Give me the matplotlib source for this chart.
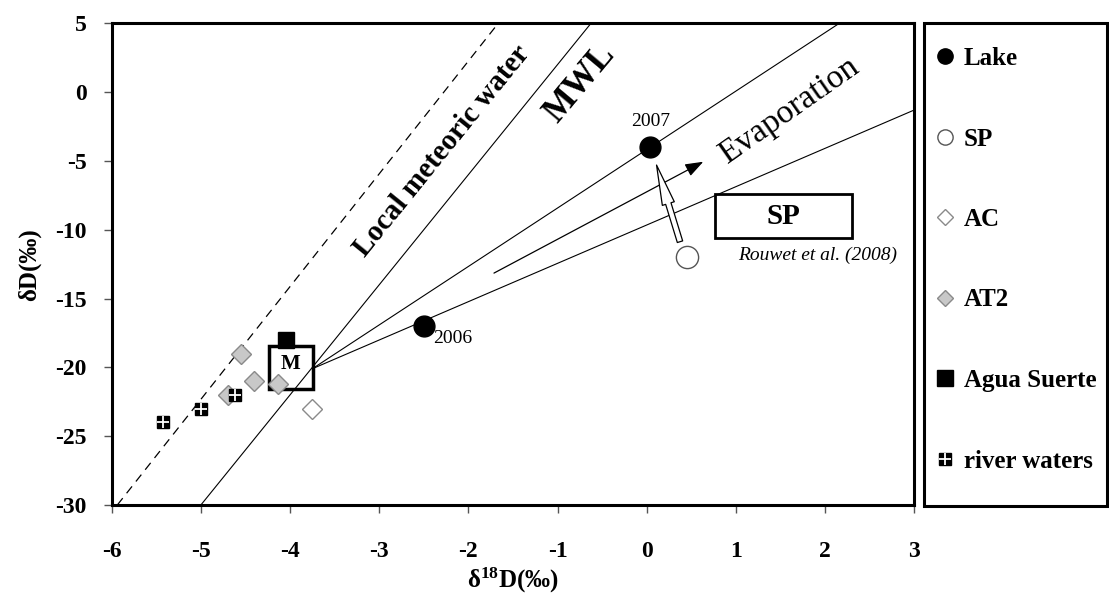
import matplotlib
matplotlib.use("Agg")
import matplotlib.pyplot as plt
from matplotlib.patches import Rectangle, FancyArrowPatch
from matplotlib.lines import Line2D

plt.rcParams['font.family'] = ['Liberation Serif', 'DejaVu Serif']
plt.rcParams['mathtext.default'] = 'regular'

# ---- data ----
lake_x = [-2.5, 0.04]
lake_y = [-17.0, -4.0]
lake_labels = ['2006', '2007']
sp_x = [0.45]
sp_y = [-12.0]
ac_x = [-3.75]
ac_y = [-23.0]
at2_x = [-4.55, -4.40, -4.70, -4.13]
at2_y = [-19.0, -21.0, -22.0, -21.2]
agua_x = [-4.04]
agua_y = [-18.0]
river_x = [-4.62, -5.00, -5.43]
river_y = [-22.0, -23.0, -24.0]

# reference lines (endpoints)
lmw_x = [-5.937, -1.665]          # local meteoric water (dashed)
lmw_y = [-30.0, 5.0]
mwl_x = [-5.0, -0.625]            # MWL: dD = 8 d18O + 10
mwl_y = [-30.0, 5.0]
evap1_x = [-3.75, 2.16]           # evaporation line through 2007
evap1_y = [-20.1, 5.0]
evap2_x = [-3.75, 3.0]            # evaporation line through 2006
evap2_y = [-20.1, -1.3]

# "M" box and SP box (data coords)
m_box = (-4.234, -21.6, 0.487, 3.15)
sp_box = (0.765, -10.63, 1.54, 3.22)

xticks = [-6, -5, -4, -3, -2, -1, 0, 1, 2, 3]
yticks = [5, 0, -5, -10, -15, -20, -25, -30]

fig = plt.figure(figsize=(11.09, 6.0), dpi=100)
ax = fig.add_axes([0.1007, 0.1583, 0.7237, 0.8029])
ax.set_xlim(-6, 3)
ax.set_ylim(-30, 5)

# lines
ax.plot(lmw_x, lmw_y, color='black', lw=0.9, dashes=(7, 5), zorder=2)
ax.plot(mwl_x, mwl_y, color='black', lw=0.8, zorder=2)
ax.plot(evap1_x, evap1_y, color='black', lw=0.8, zorder=2)
ax.plot(evap2_x, evap2_y, color='black', lw=0.8, zorder=2)

# M box
ax.add_patch(Rectangle((m_box[0], m_box[1]), m_box[2], m_box[3], fill=False,
                       ec='black', lw=2.5, zorder=3))
ax.text(m_box[0] + m_box[2] / 2, m_box[1] + m_box[3] * 0.58, 'M', ha='center', va='center',
        fontsize=15, fontweight='bold', zorder=4)

# SP box
ax.add_patch(Rectangle((sp_box[0], sp_box[1]), sp_box[2], sp_box[3], fill=False,
                       ec='black', lw=2.0, zorder=3))
ax.text(sp_box[0] + sp_box[2] / 2, sp_box[1] + sp_box[3] / 2, 'SP', ha='center', va='center',
        fontsize=21, fontweight='bold', zorder=4)
ax.text(1.92, -11.84, 'Rouwet et al. (2008)', ha='center', va='center', fontsize=14,
        style='italic', zorder=4)

# arrows
evap_arrow = FancyArrowPatch((-1.713, -13.15), (0.634, -5.06),
                             arrowstyle='-|>,head_length=0.55,head_width=0.2',
                             mutation_scale=20, color='black', lw=0.9,
                             shrinkA=0, shrinkB=0, zorder=3)
ax.add_patch(evap_arrow)
hollow = FancyArrowPatch((0.373, -10.87), (0.11, -5.3),
                         arrowstyle='simple,head_length=2.9,head_width=0.9,tail_width=0.4',
                         mutation_scale=10, fc='white', ec='black', lw=0.9,
                         shrinkA=0, shrinkB=0, zorder=3)
ax.add_patch(hollow)

# texts
ax.text(-2.30, -4.28, 'Local meteoric water', rotation=51, rotation_mode='anchor',
        ha='center', va='center', fontsize=21, fontweight='bold')
ax.text(-0.749, 0.64, 'MWL', rotation=50, rotation_mode='anchor',
        ha='center', va='center', fontsize=25, fontweight='bold')
ax.text(1.60, -1.35, 'Evaporation', rotation=35, rotation_mode='anchor',
        ha='center', va='center', fontsize=24)
ax.text(lake_x[0] + 0.1, lake_y[0] - 0.9, lake_labels[0], ha='left', va='center', fontsize=14)
ax.text(lake_x[1], lake_y[1] + 1.85, lake_labels[1], ha='center', va='center', fontsize=14)

# markers
ax.plot(at2_x, at2_y, ls='none', marker='D', ms=10.5, mfc='#c8c8c8', mec='#8a8a8a',
        mew=1.0, zorder=5)
ax.plot(ac_x, ac_y, ls='none', marker='D', ms=10.5, mfc='white', mec='#8a8a8a',
        mew=1.0, zorder=5)
ax.plot(river_x, river_y, ls='none', marker='s', ms=9, mfc='black', mec='black', zorder=6)
ax.plot(river_x, river_y, ls='none', marker='+', ms=9, mec='white', mew=1.3, zorder=7)
ax.plot(agua_x, agua_y, ls='none', marker='s', ms=11, mfc='black', mec='black', zorder=6)
ax.plot(lake_x, lake_y, ls='none', marker='o', ms=15, mfc='black', mec='black', zorder=6)
ax.plot(sp_x, sp_y, ls='none', marker='o', ms=16, mfc='white', mec='#555555', mew=1.0, zorder=6)

# axes styling
ax.set_xticks(xticks)
ax.set_yticks(yticks)
ax.set_xticklabels([str(t) for t in xticks])
ax.set_yticklabels([str(t) for t in yticks])
for lab in ax.get_xticklabels() + ax.get_yticklabels():
    lab.set_fontweight('bold')
    lab.set_fontsize(17)
ax.tick_params(direction='out', length=6, width=1, color='#555555')
ax.tick_params(axis='x', pad=20)
ax.tick_params(axis='y', pad=12)
for sp in ax.spines.values():
    sp.set_linewidth(2.2)
ax.set_xlabel('δ$^{18}$D(‰)', fontsize=18, fontweight='bold', labelpad=3)
ax.set_ylabel('δD(‰)', fontsize=18, fontweight='bold', labelpad=10)

# legend box
W, H = 1109.0, 600.0
fig.patches.append(Rectangle((924 / W, 1 - 506 / H), (1107 - 924) / W, (506 - 23) / H,
                             transform=fig.transFigure, fill=False, ec='black', lw=2.2))
h_lake = Line2D([], [], ls='none', marker='o', ms=11, mfc='black', mec='black')
h_sp = Line2D([], [], ls='none', marker='o', ms=11, mfc='white', mec='#555555')
h_ac = Line2D([], [], ls='none', marker='D', ms=8, mfc='white', mec='#8a8a8a')
h_at2 = Line2D([], [], ls='none', marker='D', ms=8, mfc='#c8c8c8', mec='#8a8a8a')
h_agua = Line2D([], [], ls='none', marker='s', ms=11, mfc='black', mec='black')
h_riv1 = Line2D([], [], ls='none', marker='s', ms=9, mfc='black', mec='black')
h_riv2 = Line2D([], [], ls='none', marker='+', ms=9, mec='white', mew=1.3)
fig.legend([h_lake, h_sp, h_ac, h_at2, h_agua, (h_riv1, h_riv2)],
           ['Lake', 'SP', 'AC', 'AT2', 'Agua Suerte', 'river waters'],
           loc='upper left', bbox_to_anchor=(935 / W, 1 - 47 / H), frameon=False,
           prop={'weight': 'bold', 'size': 18}, labelspacing=2.3, handlelength=0.8,
           handletextpad=0.35, borderpad=0, borderaxespad=0)

fig.savefig('out.png', dpi=100)
